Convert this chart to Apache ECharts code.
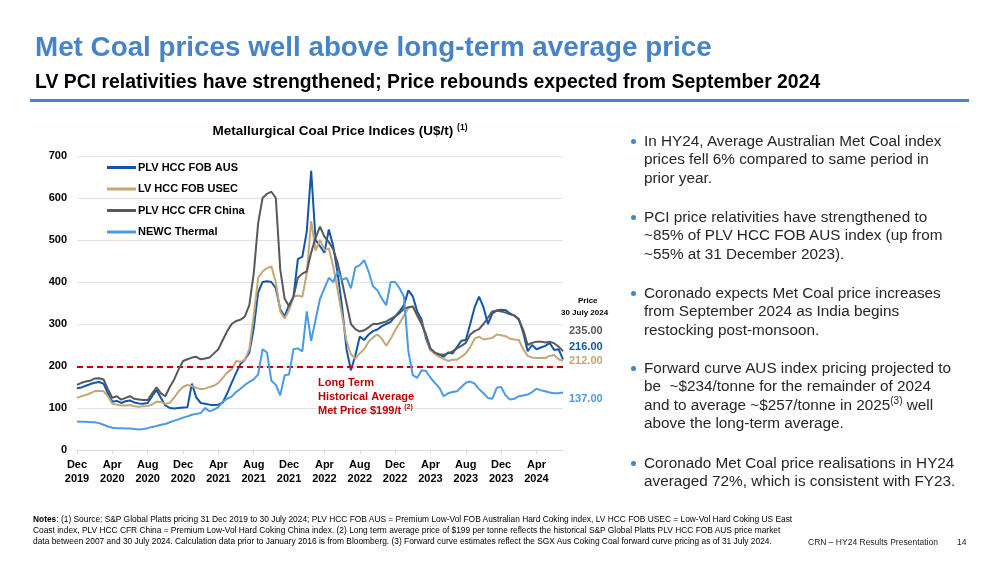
<!DOCTYPE html>
<html>
<head>
<meta charset="utf-8">
<script src="https://cdn.jsdelivr.net/npm/echarts@6/dist/echarts.min.js"></script>
<style>
  html, body { margin:0; padding:0; background:#fff; }
  body { width:999px; height:562px; position:relative; overflow:hidden; font-family:"Liberation Sans", Arial, sans-serif; }
  #chart { position:absolute; left:0; top:0; width:999px; height:562px; }
  .abs { position:absolute; white-space:nowrap; }
  #title { left:35px; top:31px; font-size:27.8px; line-height:32px; font-weight:bold; color:#4684c7; }
  #subtitle { left:35px; top:70px; font-size:19.4px; line-height:22px; font-weight:bold; color:#000; }
  #rule { left:30px; top:99px; width:939px; height:3px; background:#4684c7; }
  .bul { left:644px; font-size:15.3px; line-height:18.4px; color:#262626; }
  .dot { position:absolute; left:-13px; top:7px; width:5px; height:5px; border-radius:50%; background:#4684c7; }
  .bul sup { font-size:10px; line-height:0; vertical-align:6px; }
  #notes { left:33px; top:513.5px; font-size:8.4px; line-height:11px; color:#000; }
  #footer { left:808px; top:536px; font-size:8.5px; line-height:12px; color:#222; }
  #page { left:957px; top:536px; font-size:8.5px; line-height:12px; color:#222; }
</style>
</head>
<body>
<div id="chart"></div>
<div class="abs" id="title">Met Coal prices well above long-term average price</div>
<div class="abs" id="subtitle">LV PCI relativities have strengthened; Price rebounds expected from September 2024</div>
<div class="abs" id="rule"></div>

<div class="abs bul" style="top:132px"><span class="dot"></span>In HY24, Average Australian Met Coal index<br>prices fell 6% compared to same period in<br>prior year.</div>
<div class="abs bul" style="top:208px"><span class="dot"></span>PCI price relativities have strengthened to<br>~85% of PLV HCC FOB AUS index (up from<br>~55% at 31 December 2023).</div>
<div class="abs bul" style="top:284px"><span class="dot"></span>Coronado expects Met Coal price increases<br>from September 2024 as India begins<br>restocking post-monsoon.</div>
<div class="abs bul" style="top:359px"><span class="dot"></span>Forward curve AUS index pricing projected to<br>be&nbsp; ~$234/tonne for the remainder of 2024<br>and to average ~$257/tonne in 2025<sup>(3)</sup> well<br>above the long-term average.</div>
<div class="abs bul" style="top:454px"><span class="dot"></span>Coronado Met Coal price realisations in HY24<br>averaged 72%, which is consistent with FY23.</div>

<div class="abs" id="notes"><b>Notes</b>: (1) Source: S&amp;P Global Platts pricing 31 Dec 2019 to 30 July 2024; PLV HCC FOB AUS = Premium Low-Vol FOB Australian Hard Coking index, LV HCC FOB USEC = Low-Vol Hard Coking US East<br>Coast index, PLV HCC CFR China = Premium Low-Vol Hard Coking China index. (2) Long term average price of $199 per tonne reflects the historical S&amp;P Global Platts PLV HCC FOB AUS price market<br>data between 2007 and 30 July 2024. Calculation data prior to January 2016 is from Bloomberg. (3) Forward curve estimates reflect the SGX Aus Coking Coal forward curve pricing as of 31 July 2024.</div>
<div class="abs" id="footer">CRN – HY24 Results Presentation</div>
<div class="abs" id="page">14</div>

<script>
// Semi-monthly observations, 31 Dec 2019 .. 30 Jul 2024 (111 points)
const tickLabels = ['Dec\n2019','Apr\n2020','Aug\n2020','Dec\n2020','Apr\n2021','Aug\n2021','Dec\n2021','Apr\n2022','Aug\n2022','Dec\n2022','Apr\n2023','Aug\n2023','Dec\n2023','Apr\n2024'];

const plvAus = [147,149,153,157,160,162,158,135,115,117,112,116,118,113,111,110,112,128,143,124,
  106,100,99,100,101,102,158,125,112,110,108,107,108,113,135,160,183,205,215,232,
  290,375,400,402,400,385,335,318,345,365,455,460,520,665,500,485,470,525,485,420,
  340,240,190,225,270,262,275,283,287,295,300,305,318,330,345,380,366,330,310,265,
  238,230,226,222,232,230,245,260,262,300,340,365,340,300,325,332,334,333,325,320,
  312,279,235,250,240,244,248,255,238,240,216];

const lvUsec = [124,128,131,135,140,141,140,128,110,108,106,106,107,104,103,104,105,108,115,114,
  110,112,125,140,150,155,152,148,145,146,150,153,160,172,185,192,212,210,215,240,
  320,410,425,433,437,400,330,313,333,365,368,365,420,545,475,500,476,480,437,380,
  320,260,228,218,230,240,258,268,275,265,248,265,285,302,320,338,342,318,302,272,
  240,228,222,217,212,215,215,222,230,245,265,270,263,265,267,275,273,271,265,263,
  262,240,224,220,219,219,219,224,226,216,212];

const plvChina = [155,160,163,165,170,171,168,145,124,128,120,124,128,122,120,119,119,135,149,135,
  128,150,168,192,212,216,220,222,216,218,220,230,240,262,283,300,307,310,318,345,
  420,540,600,610,615,600,430,360,342,365,410,420,425,470,505,532,508,495,478,445,
  400,350,300,288,282,285,292,300,300,303,306,312,318,326,336,340,342,322,300,275,
  242,232,228,227,230,235,242,248,255,275,283,288,300,315,330,332,330,327,323,320,
  310,286,250,255,258,258,256,258,254,246,235];

const newcThermal = [68,67,67,66,66,64,60,56,53,52,52,51,51,50,49,50,52,55,57,60,
  62,66,70,73,77,80,84,86,88,100,92,96,102,115,122,127,138,146,155,162,
  168,180,240,232,165,155,130,178,180,240,242,235,330,260,310,360,385,410,400,425,
  405,410,385,435,440,452,425,390,380,360,345,400,400,385,365,235,178,172,190,188,
  172,160,148,128,135,138,140,150,160,163,158,145,135,124,122,148,150,130,120,122,
  128,130,132,138,146,142,140,137,135,135,137];

const longTermAvg = 199;
const seriesNames = ['PLV HCC FOB AUS','LV HCC FOB USEC','PLV HCC CFR China','NEWC Thermal'];
const seriesColors = ['#1356a8','#c4a777','#595959','#4a9ae6'];

// category axis: half-month steps from Dec 2019
const categories = [];
for (let i = 0; i < plvAus.length; i++) categories.push('P' + i);

const allData = [plvAus, lvUsec, plvChina, newcThermal];
const FONT = '"Liberation Sans", Arial, sans-serif';

const chart = echarts.init(document.getElementById('chart'));
const series = allData.map((d, k) => {
  const s = {
    name: seriesNames[k], type: 'line', data: d, showSymbol: false, symbol: 'none',
    lineStyle: { color: seriesColors[k], width: 2 }, itemStyle: { color: seriesColors[k] },
    z: 3 + k, animation: false
  };
  if (k === 0) {
    s.markLine = {
      silent: true, symbol: 'none', animation: false,
      label: { show: false },
      lineStyle: { color: '#c00000', type: [6, 4], width: 2 },
      data: [{ yAxis: longTermAvg }]
    };
  }
  return s;
});

const lastVal = d => d[d.length - 1].toFixed(2);

chart.setOption({
  animation: false,
  textStyle: { fontFamily: FONT },
  title: {
    text: 'Metallurgical Coal Price Indices (U$/t) {sup|(1)}',
    left: 335, top: 118, textAlign: 'center',
    textStyle: { fontFamily: FONT, fontSize: 13.5, fontWeight: 'bold', color: '#000',
      rich: { sup: { fontSize: 8.5, fontWeight: 'bold', verticalAlign: 'top', padding: [0,0,7,0], color:'#000' } } }
  },
  legend: {
    orient: 'vertical', left: 102, top: 157, icon: 'rect', itemWidth: 29, itemHeight: 3, itemGap: 10.5,
    data: seriesNames,
    textStyle: { fontFamily: FONT, fontSize: 11, fontWeight: 'bold', color: '#000', padding: [0,0,0,-3] }
  },
  grid: { left: 77, top: 156, width: 486, height: 294, containLabel: false },
  xAxis: {
    type: 'category', data: categories, boundaryGap: false,
    axisLine: { lineStyle: { color: '#d9d9d9', width: 1 } },
    axisTick: { show: true, interval: 7, length: 4, lineStyle: { color: '#d9d9d9' } },
    axisLabel: {
      interval: 7, margin: 8, fontFamily: FONT, fontSize: 11, fontWeight: 'bold', color: '#000', lineHeight: 14,
      formatter: (v, idx) => tickLabels[idx / 8] || ''
    },
    splitLine: { show: false }
  },
  yAxis: {
    type: 'value', min: 0, max: 700, interval: 100,
    axisLine: { show: false }, axisTick: { show: false },
    axisLabel: { margin: 10, fontFamily: FONT, fontSize: 11, fontWeight: 'bold', color: '#000' },
    splitLine: { lineStyle: { color: '#dce3ef', width: 1 } }
  },
  series: series,
  graphic: [
    { type: 'text', z: 100, left: 578, top: 297, style: { text: 'Price', font: 'bold 8px ' + FONT, fill: '#000' } },
    { type: 'text', z: 100, left: 561, top: 309, style: { text: '30 July 2024', font: 'bold 8px ' + FONT, fill: '#000' } },
    { type: 'text', z: 100, left: 569, top: 325, style: { text: lastVal(plvChina), font: 'bold 11px ' + FONT, fill: '#595959' } },
    { type: 'text', z: 100, left: 569, top: 341, style: { text: lastVal(plvAus), font: 'bold 11px ' + FONT, fill: '#1356a8' } },
    { type: 'text', z: 100, left: 569, top: 355, style: { text: lastVal(lvUsec), font: 'bold 11px ' + FONT, fill: '#c4a777' } },
    { type: 'text', z: 100, left: 569, top: 393, style: { text: lastVal(newcThermal), font: 'bold 11px ' + FONT, fill: '#4a9ae6' } },
    { type: 'text', z: 100, left: 318, top: 376, style: {
        text: 'Long Term\nHistorical Average\nMet Price $' + longTermAvg + '/t {s|(2)}',
        font: 'bold 11px ' + FONT, fill: '#c00000', lineHeight: 14,
        rich: { s: { fontSize: 7, fontWeight: 'bold', fill: '#c00000', verticalAlign: 'top', padding: [0,0,5,0] } }
      } }
  ]
});
</script>
</body>
</html>
